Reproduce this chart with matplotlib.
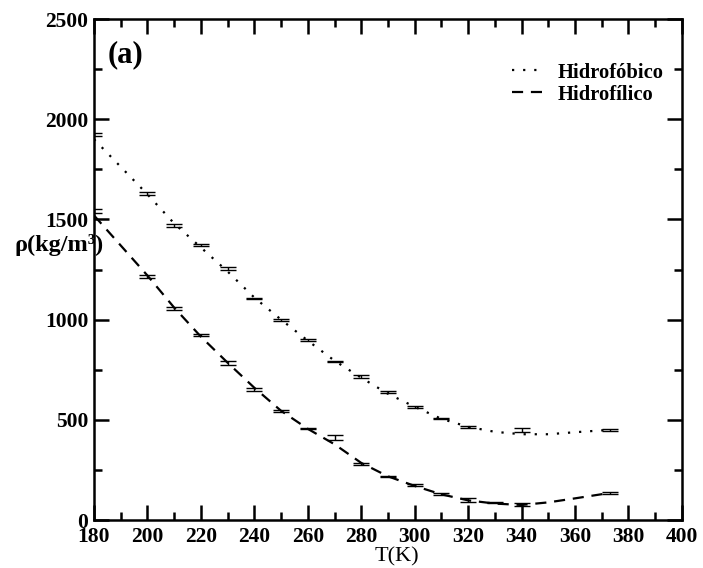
import matplotlib.pyplot as plt
from matplotlib.ticker import MultipleLocator

# measured density with error bars
temps = [180, 200, 210, 220, 230, 240, 250, 260, 270, 280, 290, 300, 310, 320, 340, 373]
rho_fob = [1925, 1630, 1470, 1372, 1255, 1105, 997, 900, 790, 717, 638, 563, 506, 465, 448, 448]
err_fob = [8, 8, 6, 6, 6, 4, 4, 5, 4, 6, 6, 6, 4, 6, 10, 6]

temps_fil = [180, 200, 210, 220, 230, 240, 250, 260, 270, 280, 290, 300, 310, 320, 330, 340, 373]
rho_fil = [1542, 1215, 1057, 922, 785, 650, 545, 456, 410, 280, 218, 175, 130, 100, 88, 78, 135]
err_fil = [10, 6, 8, 4, 10, 8, 4, 4, 12, 6, 4, 4, 4, 8, 4, 8, 5]

# fitted curves
t_fit = [180, 200, 210, 220, 230, 240, 250, 260, 270, 280, 290, 300, 310, 320, 330, 340, 350, 360, 373]
fit_fob = [1900, 1625, 1480, 1360, 1240, 1110, 1000, 895, 795, 710, 630, 565, 505, 465, 440, 428, 428, 438, 450]
fit_fil = [1520, 1220, 1060, 915, 785, 660, 545, 455, 378, 285, 218, 170, 128, 98, 82, 75, 88, 108, 135]

serif = ['Liberation Serif', 'DejaVu Serif']
plt.rcParams['font.family'] = serif

fig = plt.figure(figsize=(7.03, 5.68), dpi=100)
ax = fig.add_axes([0.1337, 0.0845, 0.8363, 0.882])

ax.plot(t_fit, fit_fob, color='black', lw=1.6, ls=(0, (1, 4)), label='Hidrofóbico')
ax.plot(t_fit, fit_fil, color='black', lw=1.6, ls=(0, (5, 3.5)), label='Hidrofílico')

ax.errorbar(temps, rho_fob, yerr=err_fob, fmt='none', ecolor='black',
            elinewidth=1.0, capsize=5.8, capthick=1.0)
ax.errorbar(temps_fil, rho_fil, yerr=err_fil, fmt='none', ecolor='black',
            elinewidth=1.0, capsize=5.8, capthick=1.0)

ax.set_xlim(180, 400)
ax.set_ylim(0, 2500)
ax.xaxis.set_major_locator(MultipleLocator(20))
ax.xaxis.set_minor_locator(MultipleLocator(10))
ax.yaxis.set_major_locator(MultipleLocator(500))
ax.yaxis.set_minor_locator(MultipleLocator(250))

ax.tick_params(which='both', direction='in', top=True, right=True, width=1.8)
ax.tick_params(which='major', length=11)
ax.tick_params(which='minor', length=6)
ax.tick_params(axis='x', which='major', pad=5)
ax.tick_params(axis='y', which='major', pad=4)
for lab in ax.get_xticklabels() + ax.get_yticklabels():
    lab.set_fontsize(15.5)
    lab.set_fontweight('bold')
for sp in ax.spines.values():
    sp.set_linewidth(1.8)

fig.text(397 / 703, 1 - 557 / 568, 'T(K)', fontsize=16, ha='center', va='center')
fig.text(15 / 703, 1 - 245 / 568, 'ρ(kg/m³)', fontsize=17.5, fontweight='bold',
         ha='left', va='center')

ax.text(0.024, 0.928, '(a)', transform=ax.transAxes, fontsize=22, fontweight='bold',
        ha='left', va='center')

leg = ax.legend(loc='upper right', bbox_to_anchor=(1.0, 0.95), frameon=False,
                handlelength=1.5, handletextpad=0.7, labelspacing=0.1,
                prop={'family': serif, 'weight': 'bold', 'size': 14.8})

fig.savefig('out.png', dpi=100)
